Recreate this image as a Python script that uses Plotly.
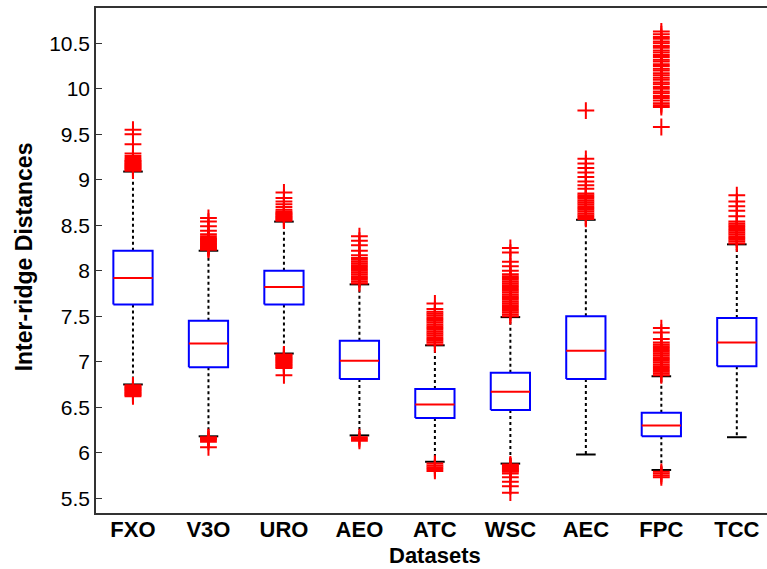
import plotly.graph_objects as go

categories = ["FXO", "V3O", "URO", "AEO", "ATC", "WSC", "AEC", "FPC", "TCC"]
q1 = [7.63, 6.94, 7.63, 6.81, 6.38, 6.47, 6.81, 6.18, 6.95]
median = [7.92, 7.20, 7.82, 7.01, 6.53, 6.67, 7.12, 6.30, 7.21]
q3 = [8.22, 7.45, 8.00, 7.23, 6.70, 6.88, 7.50, 6.44, 7.48]
lower_whisker = [6.75, 6.18, 7.09, 6.19, 5.90, 5.88, 5.98, 5.81, 6.17]
upper_whisker = [9.09, 8.22, 8.54, 7.85, 7.18, 7.49, 8.56, 6.84, 8.29]

outliers_fxo = [9.10, 9.11, 9.12, 9.13, 9.14, 9.15, 9.16, 9.17, 9.18, 9.19, 9.20, 9.21,
                9.22, 9.24, 9.26, 9.29, 9.39, 9.50, 9.55,
                6.74, 6.73, 6.72, 6.71, 6.70, 6.69, 6.68, 6.67, 6.66, 6.65, 6.64, 6.63, 6.62]
outliers_v3o = [8.23, 8.24, 8.25, 8.26, 8.27, 8.28, 8.29, 8.30, 8.31, 8.32, 8.33, 8.34,
                8.35, 8.36, 8.38, 8.40, 8.44, 8.49, 8.54, 8.58,
                6.17, 6.16, 6.15, 6.14, 6.12, 6.06]
outliers_uro = [8.55, 8.56, 8.57, 8.58, 8.59, 8.60, 8.61, 8.62, 8.63, 8.64, 8.65, 8.67,
                8.70, 8.73, 8.76, 8.80, 8.86,
                7.08, 7.07, 7.06, 7.05, 7.04, 7.03, 7.02, 7.01, 7.00, 6.99, 6.98, 6.97,
                6.96, 6.95, 6.94, 6.93, 6.85]
outliers_aeo = [7.86, 7.88, 7.90, 7.92, 7.94, 7.96, 7.98, 8.00, 8.02, 8.04, 8.06, 8.08,
                8.10, 8.12, 8.14, 8.17, 8.22, 8.28, 8.33, 8.38,
                6.17, 6.15, 6.13]
outliers_atc = [7.19, 7.21, 7.23, 7.25, 7.27, 7.29, 7.31, 7.33, 7.35, 7.37, 7.39, 7.41,
                7.43, 7.45, 7.47, 7.49, 7.51, 7.53, 7.55, 7.58, 7.64,
                5.88, 5.86, 5.84, 5.82, 5.80]
outliers_wsc = [7.50, 7.52, 7.54, 7.56, 7.58, 7.60, 7.62, 7.64, 7.66, 7.68, 7.70, 7.72,
                7.74, 7.76, 7.78, 7.80, 7.82, 7.84, 7.86, 7.88, 7.90, 7.92, 7.94, 7.96,
                8.00, 8.05, 8.10, 8.20, 8.25,
                5.87, 5.86, 5.85, 5.84, 5.83, 5.82, 5.81, 5.80, 5.79, 5.77, 5.73, 5.68,
                5.63, 5.56]
outliers_aec = [8.57, 8.59, 8.61, 8.63, 8.65, 8.67, 8.69, 8.71, 8.73, 8.75, 8.77, 8.79,
                8.81, 8.83, 8.85, 8.90, 8.94, 8.98, 9.03, 9.08, 9.13, 9.18, 9.23, 9.76]
outliers_fpc = [9.58, 9.80, 9.82, 9.84, 9.87, 9.90, 9.92, 9.95, 9.97, 10.00, 10.02, 10.05,
                10.07, 10.10, 10.12, 10.15, 10.17, 10.20, 10.22, 10.25, 10.27, 10.30,
                10.32, 10.35, 10.37, 10.40, 10.42, 10.45, 10.47, 10.50, 10.52, 10.55,
                10.57, 10.60, 10.63,
                6.85, 6.87, 6.89, 6.91, 6.93, 6.95, 6.97, 6.99, 7.01, 7.03, 7.05, 7.07,
                7.09, 7.11, 7.13, 7.15, 7.17, 7.19, 7.21, 7.25, 7.32, 7.37,
                5.79, 5.77, 5.75, 5.73]
outliers_tcc = [8.30, 8.32, 8.34, 8.36, 8.38, 8.40, 8.42, 8.44, 8.46, 8.48, 8.50, 8.52,
                8.54, 8.60, 8.66, 8.71, 8.76, 8.83]
outliers = [outliers_fxo, outliers_v3o, outliers_uro, outliers_aeo, outliers_atc,
            outliers_wsc, outliers_aec, outliers_fpc, outliers_tcc]

yticks = [5.5, 6, 6.5, 7, 7.5, 8, 8.5, 9, 9.5, 10, 10.5]

BOX_HW = 0.26
CAP_HW = 0.13
FONT = "Arial, 'Liberation Sans', sans-serif"

positions = list(range(1, len(categories) + 1))

wx, wy, bx, by, mx, my, cx, cy = [], [], [], [], [], [], [], []
ox, oy = [], []
for i, p in enumerate(positions):
    wx += [p, p, None, p, p, None]
    wy += [q3[i], upper_whisker[i], None, q1[i], lower_whisker[i], None]
    cx += [p - CAP_HW, p + CAP_HW, None, p - CAP_HW, p + CAP_HW, None]
    cy += [upper_whisker[i], upper_whisker[i], None, lower_whisker[i], lower_whisker[i], None]
    bx += [p - BOX_HW, p + BOX_HW, p + BOX_HW, p - BOX_HW, p - BOX_HW, None]
    by += [q1[i], q1[i], q3[i], q3[i], q1[i], None]
    mx += [p - BOX_HW, p + BOX_HW, None]
    my += [median[i], median[i], None]
    for v in outliers[i]:
        ox.append(p)
        oy.append(v)

fig = go.Figure()
fig.add_trace(go.Scatter(x=wx, y=wy, mode="lines",
                         line=dict(color="black", width=2, dash="dot"),
                         hoverinfo="skip", showlegend=False))
fig.add_trace(go.Scatter(x=cx, y=cy, mode="lines",
                         line=dict(color="black", width=2),
                         hoverinfo="skip", showlegend=False))
fig.add_trace(go.Scatter(x=bx, y=by, mode="lines",
                         line=dict(color="#0000ff", width=2),
                         hoverinfo="skip", showlegend=False))
fig.add_trace(go.Scatter(x=mx, y=my, mode="lines",
                         line=dict(color="#ff0000", width=2),
                         hoverinfo="skip", showlegend=False))
fig.add_trace(go.Scatter(x=ox, y=oy, mode="markers",
                         marker=dict(symbol="cross-thin", size=12,
                                     line=dict(color="#ff0000", width=2)),
                         showlegend=False))

fig.update_layout(
    width=767, height=569,
    margin=dict(l=96, r=0, t=8, b=56),
    paper_bgcolor="white", plot_bgcolor="white",
    font=dict(family=FONT, color="black"),
    xaxis=dict(range=[0.51, 9.40], tickvals=positions, ticktext=categories,
               showgrid=False, zeroline=False, showline=True, linecolor="#333333",
               linewidth=1.5, mirror=True, ticks="", ticklabelstandoff=-4,
               tickfont=dict(size=22, family=FONT, weight="bold")),
    yaxis=dict(range=[5.337, 10.888], tickvals=yticks,
               ticktext=[f"{t:g}" for t in yticks],
               showgrid=False, zeroline=False, showline=True, linecolor="#333333",
               linewidth=1.5, ticks="inside", ticklen=6, tickcolor="#333333",
               tickfont=dict(size=21, family=FONT)),
    annotations=[
        dict(text="<b>Datasets</b>", xref="x", yref="paper",
             x=5, y=-0.084, xanchor="center", yanchor="middle",
             showarrow=False, font=dict(size=22, family=FONT)),
        dict(text="<b>Inter-ridge Distances</b>", xref="paper", yref="paper",
             x=-0.106, y=0.508, xanchor="center", yanchor="middle",
             textangle=-90, showarrow=False, font=dict(size=23, family=FONT)),
    ],
)

fig.write_html("out.html")
